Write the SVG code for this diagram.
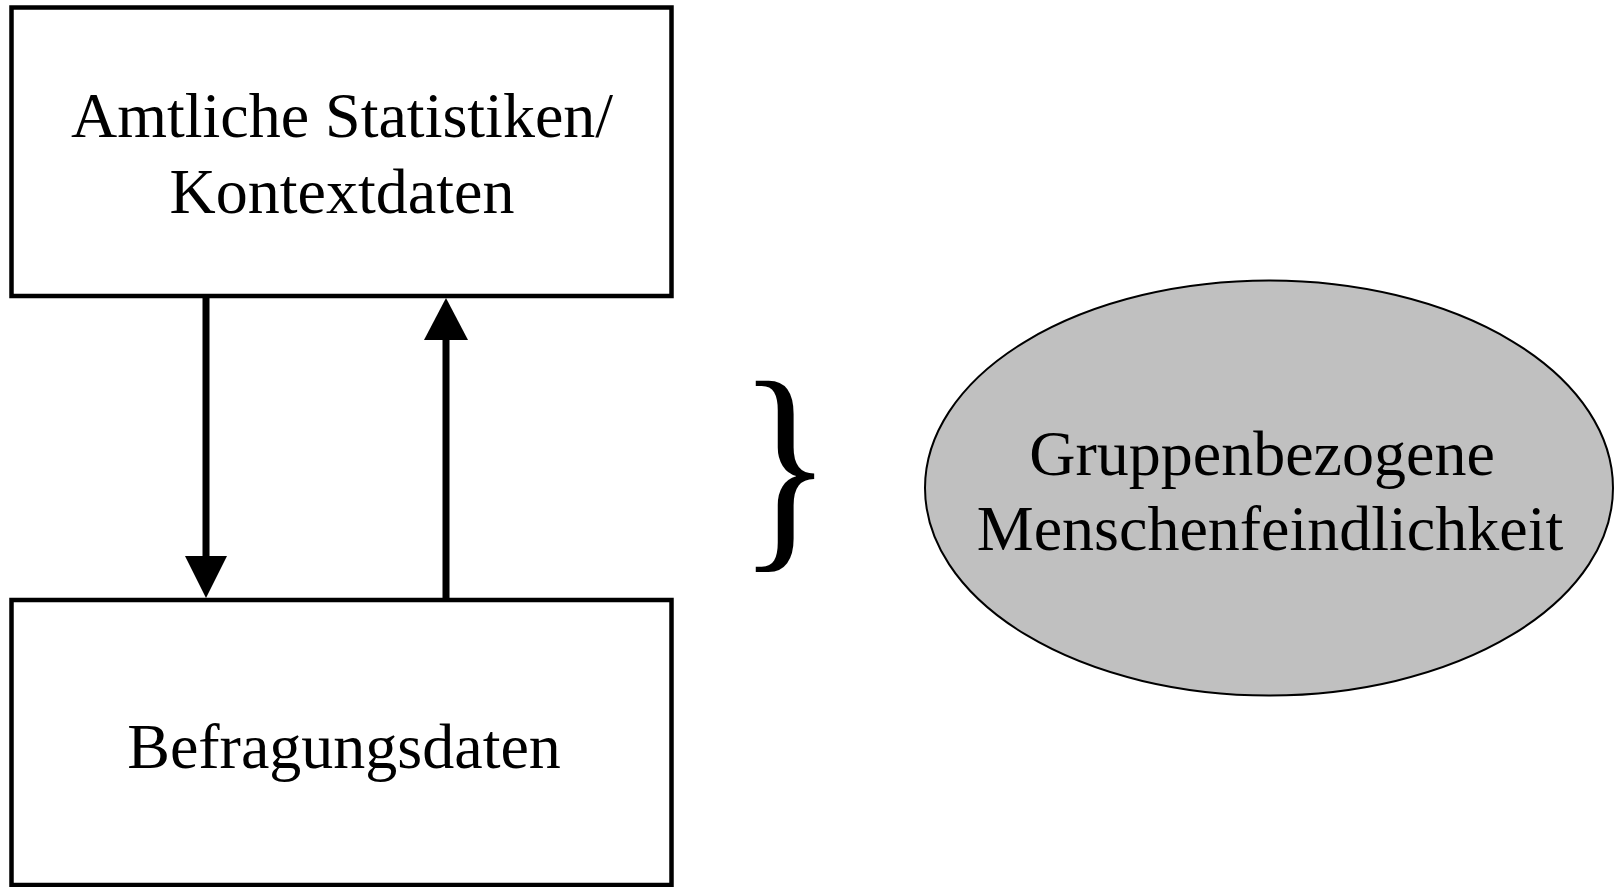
<svg xmlns="http://www.w3.org/2000/svg" width="1618" height="887" viewBox="0 0 1618 887">
  <style>
    .box { fill: #ffffff; stroke: #000000; stroke-width: 4.5; }
    .oval { fill: #c0c0c0; stroke: #000000; stroke-width: 2; }
    .label { font-family: "Liberation Serif", "Times New Roman", serif; font-size: 64px; fill: #000000; text-anchor: middle; }
    .shaft { stroke: #000000; stroke-width: 7; fill: none; }
    .head { fill: #000000; stroke: none; }
    .brace { font-family: "Liberation Serif", "Times New Roman", serif; font-size: 220px; fill: #000000; }
  </style>
  <rect width="1618" height="887" fill="#ffffff"/>

  <g id="node-amtliche">
    <rect class="box" x="11.5" y="7.5" width="660" height="288.5"/>
    <text class="label" x="342" y="137">Amtliche Statistiken/</text>
    <text class="label" x="342" y="213">Kontextdaten</text>
  </g>

  <g id="node-befragung">
    <rect class="box" x="11.5" y="600" width="660" height="285"/>
    <text class="label" x="344" y="768">Befragungsdaten</text>
  </g>

  <g id="connectors">
    <line class="shaft" x1="206" y1="298" x2="206" y2="558"/>
    <polygon class="head" points="185,556 227,556 206,598"/>
    <line class="shaft" x1="446" y1="598" x2="446" y2="338"/>
    <polygon class="head" points="424,340 468,340 446,298"/>
  </g>

  <g id="brace">
    <text class="brace" x="0" y="0" transform="translate(738,540.5) scale(0.89,1.05)">}</text>
  </g>

  <g id="node-gmf">
    <ellipse class="oval" cx="1269" cy="488" rx="344" ry="207.5"/>
    <text class="label" x="1262" y="475">Gruppenbezogene</text>
    <text class="label" x="1270" y="550">Menschenfeindlichkeit</text>
  </g>
</svg>
